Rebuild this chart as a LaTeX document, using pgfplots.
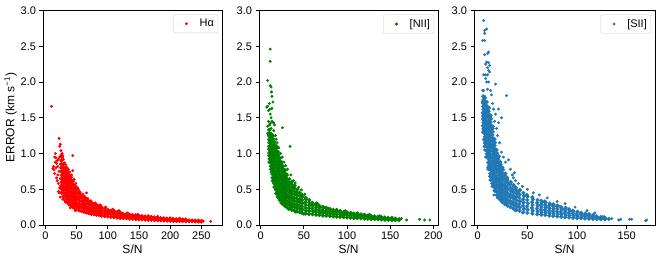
\documentclass[border=0pt]{standalone}
\usepackage{fontspec}
\setmainfont{Liberation Sans}
\usepackage{pgfplots}
\pgfplotsset{compat=1.18}
\definecolor{tabblue}{HTML}{1F77B4}
\definecolor{mplgreen}{HTML}{008000}
\definecolor{mplred}{HTML}{FF0000}
\pgfplotsset{
  panel/.style={
    scale only axis, width=179pt, height=214.5pt, ymin=0, ymax=3,
    ytick={0,0.5,1,1.5,2,2.5,3},
    yticklabel style={/pgf/number format/.cd, fixed, fixed zerofill, precision=1},
    /pgf/number format/assume math mode=true,
    tick align=outside, tick pos=left,
    major tick length=3.5pt,
    every tick/.style={black, line width=0.8pt},
    axis line style={line width=0.8pt},
    tick label style={font=\fontsize{11}{12}\selectfont},
    label style={font=\fontsize{12}{14}\selectfont},
    xlabel={S/N},
    xlabel style={yshift=2pt},
    ylabel style={yshift=-3pt},
    legend style={at={(0.978,0.981)}, anchor=north east, draw=black!20, rounded corners=2pt,
      font=\fontsize{11}{12}\selectfont, inner xsep=2pt, inner ysep=2.5pt,
      /tikz/every even column/.append style={column sep=2pt}},
    legend image code/.code={\path (0pt,0pt) (22pt,0pt);
      \draw[mark repeat=2,mark phase=2] plot coordinates {(0pt,0pt)(11pt,0pt)(22pt,0pt)};},
    legend cell align=left,
  },
  core/.style={only marks, mark=*, color=#1, mark size=1.9pt, forget plot},
  fringe/.style={only marks, mark=*, color=#1, mark size=1.25pt},
}
\begin{document}
\begin{tikzpicture}
%% ---------------- Panel 1 : H alpha ----------------
\begin{axis}[panel, at={(43pt,38pt)}, anchor=south west,
  xmin=-3.7, xmax=283, xtick={0,50,100,150,200,250},
  ylabel={ERROR (km s\textsuperscript{−1})}]
\addplot[fringe=mplred] coordinates {
(10,1.66)(12,.79)(13,.82)(14,.77)(15,.72)(15,.95)(16,.88)(16,1.0)(17,.94)(17,.8)(18,.86)(18,.66)(19,.9)(19,.62)(20,.7)(20,.82)(21,.47)(21,.92)(21,.58)(22,1.21)(22,.75)(22,.45)(23,1.1)(23,.52)(23,.95)(24,1.13)(24,.39)(24,.85)(24,.65)(25,1.04)(25,.98)(27,1.0)(28,.97)(29,.92)(31,.87)(33,.84)(35,.8)(37,.78)(39,.74)(42,.7)(44,.97)(44,.76)(46,.64)(49,.58)(50,.53)(53,.5)(56,.46)(60,.43)(66,.45)(63,.4)(68,.37)(73,.34)(80,.31)(88,.28)(97,.25)(108,.22)(118,.2)(132,.17)(148,.15)(165,.13)(180,.12)(200,.1)(215,.095)(225,.085)(236,.06)(253,.055)(265,.05)(28,.36)(32,.32)(40,.24)(48,.2)
};
\addlegendentry{Hα}
\addplot[core=mplred] coordinates {
(26,.45)(26.5,.5)(25.6,.55)(26.2,.6)(25.8,.65)(26.4,.7)(26,.75)(25.5,.8)(26.3,.85)(25.9,.9)(26.6,.95)
(29,.4)(29.4,.445)(28.7,.49)(29.2,.535)(28.9,.58)(29.5,.625)(29,.67)(28.6,.715)(29.3,.76)(29,.805)(28.8,.85)
(32,.35)(32.3,.395)(31.7,.44)(32.4,.485)(31.9,.53)(32.2,.575)(31.6,.62)(32.5,.665)(32,.71)(31.8,.755)(32.3,.8)
(35,.32)(35.4,.365)(34.7,.41)(35.2,.455)(34.8,.5)(35.5,.545)(35,.59)(34.6,.635)(35.3,.68)(35,.725)(34.9,.76)
(38,.29)(38.3,.335)(37.7,.38)(38.4,.425)(37.9,.47)(38.2,.515)(37.6,.56)(38.5,.605)(38,.65)(37.8,.7)
(41,.27)(41.4,.315)(40.7,.36)(41.2,.405)(40.8,.45)(41.5,.495)(41,.54)(40.6,.585)(41.3,.63)(41,.67)
(44,.25)(44.3,.295)(43.7,.34)(44.4,.385)(43.9,.43)(44.2,.475)(43.6,.52)(44.5,.565)(44,.61)
(47,.235)(47.4,.28)(46.7,.325)(47.2,.37)(46.8,.415)(47.5,.46)(47,.505)(46.6,.55)
(50,.22)(50.3,.265)(49.7,.31)(50.4,.355)(49.9,.4)(50.2,.445)(49.6,.49)(50.5,.52)
(54,.205)(54.4,.25)(53.7,.295)(54.2,.34)(53.8,.385)(54.5,.43)(54,.46)
(58,.195)(58.3,.24)(57.7,.285)(58.4,.33)(57.9,.375)(58.2,.41)
(62,.185)(62.4,.225)(61.7,.265)(62.2,.305)(61.8,.345)(62.5,.385)
(66,.175)(66.3,.215)(65.7,.255)(66.4,.295)(65.9,.335)(66.2,.36)
(70,.165)(70.4,.205)(69.7,.245)(70.2,.285)(69.8,.33)
(74,.155)(74.3,.195)(73.7,.235)(74.4,.275)(73.9,.31)
(78,.15)(78.4,.19)(77.7,.23)(78.2,.27)(77.8,.29)
(82,.145)(82.3,.18)(81.7,.215)(82.4,.25)(81.9,.28)
(86,.14)(86.4,.175)(85.7,.21)(86.2,.245)(85.8,.265)
(90,.13)(90.3,.165)(89.7,.2)(90.4,.235)(89.9,.25)
(95,.125)(95.4,.16)(94.7,.195)(95.2,.23)
(100,.12)(100.3,.155)(99.7,.19)(100.4,.21)
(105,.115)(105.4,.15)(104.7,.185)(105.2,.2)
(110,.11)(110.3,.14)(109.7,.17)(110.4,.19)
(115,.105)(115.4,.135)(114.7,.165)(115.2,.18)
(120,.1)(120.3,.13)(119.7,.16)(120.4,.17)
(125,.097)(125.4,.127)(124.7,.155)
(130,.094)(130.3,.122)(129.7,.15)
(135,.09)(135.4,.117)(134.7,.145)
(140,.087)(140.3,.113)(139.7,.14)
(145,.084)(145.4,.11)(144.7,.135)
(150,.08)(150.3,.105)(149.7,.128)
(155,.078)(155.4,.102)(154.7,.124)
(160,.076)(160.3,.099)(159.7,.12)
(165,.074)(165.4,.096)(164.7,.115)
(170,.072)(170.3,.093)(169.7,.11)
(175,.07)(175.4,.09)(174.7,.105)
(180,.068)(180.3,.087)(179.7,.1)
(185,.066)(185.4,.084)(184.7,.097)
(190,.064)(190.3,.081)(189.7,.094)
(195,.062)(195.4,.079)(194.7,.09)
(200,.06)(200.3,.076)(199.7,.087)
(205,.058)(205.4,.073)(204.7,.084)
(210,.057)(210.3,.071)(209.7,.081)
(215,.056)(215.4,.069)(214.7,.078)
(220,.055)(220.3,.067)(219.7,.075)
(225,.054)(225.4,.065)(224.7,.072)
(230,.053)(230.3,.063)
(235,.052)(235.4,.062)
(240,.05)(240.3,.06)
(245,.05)(245.4,.058)
(250,.049)(250.3,.057)
};
\end{axis}
%% ---------------- Panel 2 : [NII] ----------------
\begin{axis}[panel, at={(259pt,38pt)}, anchor=south west,
  xmin=-2, xmax=205.4, xtick={0,50,100,150,200}]
\addplot[fringe=mplgreen] coordinates {
(11,2.46)(11,2.29)(8,2.02)(11,1.95)(12,1.93)(12.5,1.86)(13,1.8)(14,1.72)(7,1.65)(8,1.66)(9,1.6)(10,1.7)(10.5,1.62)(11,1.55)(13,1.63)(12,1.5)(9,1.45)(8,1.38)(10,1.4)(11,1.42)(13,1.45)(14,1.44)(15,1.43)(16,1.4)(25,1.36)(34,1.1)(8,1.28)(9,1.25)(12,1.35)(15,1.32)(17,1.25)(18,1.2)(19,1.15)(21,1.08)(23,1.0)(25,.95)(27,.88)(29,.83)(31,.78)(35,.7)(38,.62)(40,.59)(44,.53)(47,.49)(51,.43)(9,1.1)(9.5,1.0)(10,.92)(11,.82)(12,.74)(13,.66)(15,.58)(17,.5)(19,.42)(21,.37)(25,.29)(32,.22)(40,.18)(50,.15)(58,.28)(66,.3)(78,.24)(88,.22)(98,.2)(112,.17)(126,.15)(138,.13)(152,.11)(163,.09)(169,.07)(184,.08)(190,.07)(196,.07)
};
\addlegendentry{[NII]}
\addplot[core=mplgreen] coordinates {
(10,.88)(10.3,.925)(9.7,.97)(10.2,1.015)(9.8,1.06)(10.4,1.105)(10,1.15)(9.6,1.195)(10.3,1.24)(10,1.285)(9.9,1.33)
(12,.78)(12.3,.825)(11.7,.87)(12.4,.915)(11.9,.96)(12.2,1.005)(11.6,1.05)(12.5,1.095)(12,1.14)(11.8,1.185)(12.3,1.23)(12,1.275)
(14,.62)(14.3,.665)(13.7,.71)(14.4,.755)(13.9,.8)(14.2,.845)(13.6,.89)(14.5,.935)(14,.98)(13.8,1.025)(14.3,1.07)(14,1.115)(13.7,1.16)(14.2,1.205)(14,1.25)
(16,.53)(16.3,.575)(15.7,.62)(16.4,.665)(15.9,.71)(16.2,.755)(15.6,.8)(16.5,.845)(16,.89)(15.8,.935)(16.3,.98)(16,1.025)(15.7,1.07)(16.2,1.115)(16,1.16)
(18,.44)(18.3,.485)(17.7,.53)(18.4,.575)(17.9,.62)(18.2,.665)(17.6,.71)(18.5,.755)(18,.8)(17.8,.845)(18.3,.89)(18,.935)(17.7,.98)(18.2,1.025)(18,1.07)(18.4,1.1)
(20,.39)(20.3,.435)(19.7,.48)(20.4,.525)(19.9,.57)(20.2,.615)(19.6,.66)(20.5,.705)(20,.75)(19.8,.795)(20.3,.84)(20,.885)(19.7,.93)(20.2,.975)(20,1.02)
(22,.35)(22.3,.395)(21.7,.44)(22.4,.485)(21.9,.53)(22.2,.575)(21.6,.62)(22.5,.665)(22,.71)(21.8,.755)(22.3,.8)(22,.845)(21.7,.89)(22.2,.935)
(24,.31)(24.3,.355)(23.7,.4)(24.4,.445)(23.9,.49)(24.2,.535)(23.6,.58)(24.5,.625)(24,.67)(23.8,.715)(24.3,.76)(24,.805)(23.7,.85)(24.2,.88)
(26,.29)(26.3,.335)(25.7,.38)(26.4,.425)(25.9,.47)(26.2,.515)(25.6,.56)(26.5,.605)(26,.65)(25.8,.695)(26.3,.74)(26,.785)(25.7,.82)
(28,.27)(28.3,.315)(27.7,.36)(28.4,.405)(27.9,.45)(28.2,.495)(27.6,.54)(28.5,.585)(28,.63)(27.8,.675)(28.3,.72)(28,.765)
(30,.25)(30.3,.295)(29.7,.34)(30.4,.385)(29.9,.43)(30.2,.475)(29.6,.52)(30.5,.565)(30,.61)(29.8,.655)(30.3,.7)
(33,.23)(33.4,.275)(32.7,.32)(33.2,.365)(32.8,.41)(33.5,.455)(33,.5)(32.6,.545)(33.3,.59)(33,.64)
(36,.21)(36.3,.255)(35.7,.3)(36.4,.345)(35.9,.39)(36.2,.435)(35.6,.48)(36.5,.525)(36,.57)(35.8,.6)
(39,.2)(39.4,.245)(38.7,.29)(39.2,.335)(38.8,.38)(39.5,.425)(39,.47)(38.6,.515)(39.3,.55)
(42,.19)(42.3,.235)(41.7,.28)(42.4,.325)(41.9,.37)(42.2,.415)(41.6,.46)(42.5,.5)
(45,.18)(45.4,.225)(44.7,.27)(45.2,.315)(44.8,.36)(45.5,.405)(45,.45)
(48,.17)(48.3,.215)(47.7,.26)(48.4,.305)(47.9,.35)(48.2,.395)(47.6,.42)
(52,.16)(52.4,.2)(51.7,.24)(52.2,.28)(51.8,.32)(52.5,.36)(52,.38)
(56,.155)(56.3,.195)(55.7,.235)(56.4,.275)(55.9,.315)(56.2,.35)
(60,.15)(60.4,.19)(59.7,.23)(60.2,.27)(59.8,.31)
(64,.143)(64.3,.178)(63.7,.213)(64.4,.248)(63.9,.283)(64.2,.3)
(68,.138)(68.4,.173)(67.7,.208)(68.2,.243)(67.8,.27)
(72,.133)(72.3,.168)(71.7,.203)(72.4,.238)(71.9,.255)
(76,.13)(76.4,.163)(75.7,.196)(76.2,.23)(75.8,.24)
(80,.125)(80.3,.158)(79.7,.19)(80.4,.22)
(84,.12)(84.4,.153)(83.7,.186)(84.2,.21)
(88,.117)(88.3,.148)(87.7,.18)(88.4,.2)
(92,.113)(92.4,.143)(91.7,.173)(92.2,.195)
(96,.11)(96.3,.14)(95.7,.168)(96.4,.185)
(100,.105)(100.4,.135)(99.7,.163)(100.2,.175)
(104,.101)(104.3,.13)(103.7,.16)(104.4,.168)
(108,.098)(108.4,.125)(107.7,.152)(108.2,.16)
(112,.096)(112.3,.12)(111.7,.145)(112.4,.153)
(116,.093)(116.4,.117)(115.7,.14)(116.2,.148)
(120,.09)(120.3,.114)(119.7,.135)(120.4,.14)
(124,.088)(124.4,.11)(123.7,.13)
(128,.085)(128.3,.106)(127.7,.126)
(132,.083)(132.4,.103)(131.7,.121)
(136,.08)(136.3,.099)(135.7,.116)
(140,.077)(140.4,.095)(139.7,.11)
(144,.075)(144.3,.091)(143.7,.104)
(148,.072)(148.4,.087)(147.7,.099)
(152,.07)(152.3,.084)(151.7,.094)
(156,.069)(156.4,.08)(155.7,.09)
(160,.068)(160.3,.082)
};
\end{axis}
%% ---------------- Panel 3 : [SII] ----------------
\begin{axis}[panel, at={(474pt,38pt)}, anchor=south west, width=181pt,
  xmin=-3.7, xmax=178.5, xtick={0,50,100,150}]
\addplot[fringe=tabblue] coordinates {
(6,2.86)(7,2.72)(7,2.68)(9,2.74)(5,2.58)(7,2.58)(11,2.42)(10,2.4)(7,2.38)(9,2.28)(8,2.25)(11,2.27)(12,2.23)(10,2.2)(11,2.16)(12,2.14)(6,2.1)(8,2.1)(10,2.1)(8,2.05)(9,2.0)(11,2.0)(18,1.97)(29,1.81)(6,1.88)(5,1.88)(10,1.9)(13,1.88)(14,1.82)(7,1.8)(4.5,1.72)(21,1.62)(24,1.5)(21,1.43)(18,1.55)(16,1.62)(15,1.7)(17,1.45)(19,1.35)(20,1.25)(22,1.15)(24,1.02)(26,.95)(28,.88)(31,.91)(33,.78)(35,.7)(37,.73)(36,.66)(38,.62)(41,.58)(45,.54)(50,.5)(56,.45)(62,.42)(70,.38)(80,.33)(88,.3)(98,.25)(110,.2)(118,.17)(16.4,.42)(29,.3)(6,1.2)(7,1.05)(8,.95)(10,.8)(12,.68)(14,.58)(20,.38)(24,.33)(38,.2)(45,.17)(135,.09)(142,.07)(144,.08)(153,.08)(155,.08)(170,.07)(169,.06)(124,.095)(126,.12)
};
\addlegendentry{[SII]}
\addplot[core=tabblue] coordinates {
(5.5,1.3)(5.8,1.345)(5.2,1.39)(5.9,1.435)(5.4,1.48)(5.7,1.525)(5.1,1.57)(6,1.615)(5.5,1.66)(5.3,1.705)(5.8,1.75)(5.5,1.8)
(7,1.1)(7.3,1.145)(6.7,1.19)(7.4,1.235)(6.9,1.28)(7.2,1.325)(6.6,1.37)(7.5,1.415)(7,1.46)(6.8,1.505)(7.3,1.55)(7,1.595)(6.7,1.64)(7.2,1.685)(7,1.73)(7.4,1.78)
(9,.95)(9.3,.995)(8.7,1.04)(9.4,1.085)(8.9,1.13)(9.2,1.175)(8.6,1.22)(9.5,1.265)(9,1.31)(8.8,1.355)(9.3,1.4)(9,1.445)(8.7,1.49)(9.2,1.535)(9,1.58)(9.4,1.625)(8.8,1.67)(9.1,1.72)
(11,.78)(11.3,.825)(10.7,.87)(11.4,.915)(10.9,.96)(11.2,1.005)(10.6,1.05)(11.5,1.095)(11,1.14)(10.8,1.185)(11.3,1.23)(11,1.275)(10.7,1.32)(11.2,1.365)(11,1.41)(11.4,1.455)(10.8,1.5)(11.1,1.545)(11,1.59)(11.3,1.64)
(13,.63)(13.3,.675)(12.7,.72)(13.4,.765)(12.9,.81)(13.2,.855)(12.6,.9)(13.5,.945)(13,.99)(12.8,1.035)(13.3,1.08)(13,1.125)(12.7,1.17)(13.2,1.215)(13,1.26)(13.4,1.305)(12.8,1.35)(13.1,1.395)(13,1.44)(13.3,1.485)(12.9,1.53)
(15,.54)(15.3,.585)(14.7,.63)(15.4,.675)(14.9,.72)(15.2,.765)(14.6,.81)(15.5,.855)(15,.9)(14.8,.945)(15.3,.99)(15,1.035)(14.7,1.08)(15.2,1.125)(15,1.17)(15.4,1.215)(14.8,1.26)(15.1,1.305)(15,1.35)(15.3,1.38)
(17,.48)(17.3,.525)(16.7,.57)(17.4,.615)(16.9,.66)(17.2,.705)(16.6,.75)(17.5,.795)(17,.84)(16.8,.885)(17.3,.93)(17,.975)(16.7,1.02)(17.2,1.065)(17,1.11)(17.4,1.155)(16.9,1.2)
(19,.42)(19.3,.465)(18.7,.51)(19.4,.555)(18.9,.6)(19.2,.645)(18.6,.69)(19.5,.735)(19,.78)(18.8,.825)(19.3,.87)(19,.915)(18.7,.96)(19.2,1.005)(19,1.05)
(21,.38)(21.3,.425)(20.7,.47)(21.4,.515)(20.9,.56)(21.2,.605)(20.6,.65)(21.5,.695)(21,.74)(20.8,.785)(21.3,.83)(21,.875)(20.7,.92)(21.2,.96)
(23,.35)(23.3,.395)(22.7,.44)(23.4,.485)(22.9,.53)(23.2,.575)(22.6,.62)(23.5,.665)(23,.71)(22.8,.755)(23.3,.8)(23,.845)(22.7,.88)
(25,.32)(25.3,.365)(24.7,.41)(25.4,.455)(24.9,.5)(25.2,.545)(24.6,.59)(25.5,.635)(25,.68)(24.8,.725)(25.3,.77)(25,.8)
(27.5,.29)(27.8,.335)(27.2,.38)(27.9,.425)(27.4,.47)(27.7,.515)(27.1,.56)(28,.605)(27.5,.65)(27.3,.695)(27.8,.72)
(30,.27)(30.3,.315)(29.7,.36)(30.4,.405)(29.9,.45)(30.2,.495)(29.6,.54)(30.5,.585)(30,.63)(29.8,.66)
(33,.25)(33.4,.295)(32.7,.34)(33.2,.385)(32.8,.43)(33.5,.475)(33,.52)(32.6,.565)(33.3,.6)
(36,.23)(36.3,.275)(35.7,.32)(36.4,.365)(35.9,.41)(36.2,.455)(35.6,.5)(36.5,.545)(36,.56)
(39,.21)(39.4,.255)(38.7,.3)(39.2,.345)(38.8,.39)(39.5,.435)(39,.48)(38.6,.52)
(42,.2)(42.3,.245)(41.7,.29)(42.4,.335)(41.9,.38)(42.2,.425)(41.6,.47)(42.5,.49)
(46,.18)(46.4,.225)(45.7,.27)(46.2,.315)(45.8,.36)(46.5,.405)(46,.45)
(50,.17)(50.3,.215)(49.7,.26)(50.4,.305)(49.9,.35)(50.2,.395)(49.6,.42)
(55,.16)(55.4,.2)(54.7,.24)(55.2,.28)(54.8,.32)(55.5,.36)(55,.39)
(60,.15)(60.3,.19)(59.7,.23)(60.4,.27)(59.9,.31)(60.2,.35)
(64,.145)(64.4,.18)(63.7,.215)(64.2,.25)(63.8,.285)(64.5,.32)(64,.34)
(68,.14)(68.3,.175)(67.7,.21)(68.4,.245)(67.9,.28)(68.2,.315)(67.6,.33)
(72,.13)(72.4,.165)(71.7,.2)(72.2,.235)(71.8,.27)(72.5,.3)
(76,.125)(76.3,.16)(75.7,.195)(76.4,.23)(75.9,.265)(76.2,.29)
(80,.12)(80.4,.155)(79.7,.19)(80.2,.225)(79.8,.26)(80.5,.27)
(84,.115)(84.3,.15)(83.7,.185)(84.4,.22)(83.9,.25)
(88,.11)(88.4,.14)(87.7,.17)(88.2,.2)(87.8,.23)(88.5,.24)
(92,.105)(92.3,.135)(91.7,.165)(92.4,.195)(91.9,.22)
(96,.1)(96.4,.13)(95.7,.16)(96.2,.19)(95.8,.2)
(100,.097)(100.3,.125)(99.7,.155)(100.4,.185)
(104,.094)(104.4,.12)(103.7,.15)(104.2,.17)
(108,.09)(108.3,.115)(107.7,.14)(108.4,.16)
(112,.088)(112.4,.11)(111.7,.135)(112.2,.15)
(116,.085)(116.3,.105)(115.7,.125)(116.4,.14)
(120,.082)(120.4,.1)(119.7,.12)
(124,.08)(124.3,.097)(123.7,.11)
(128,.08)(128.4,.095)(127.7,.105)
(132,.085)
};
\end{axis}
\pgfresetboundingbox
\path[use as bounding box] (0pt,0pt) rectangle (664pt,263pt);
\end{tikzpicture}
\end{document}
